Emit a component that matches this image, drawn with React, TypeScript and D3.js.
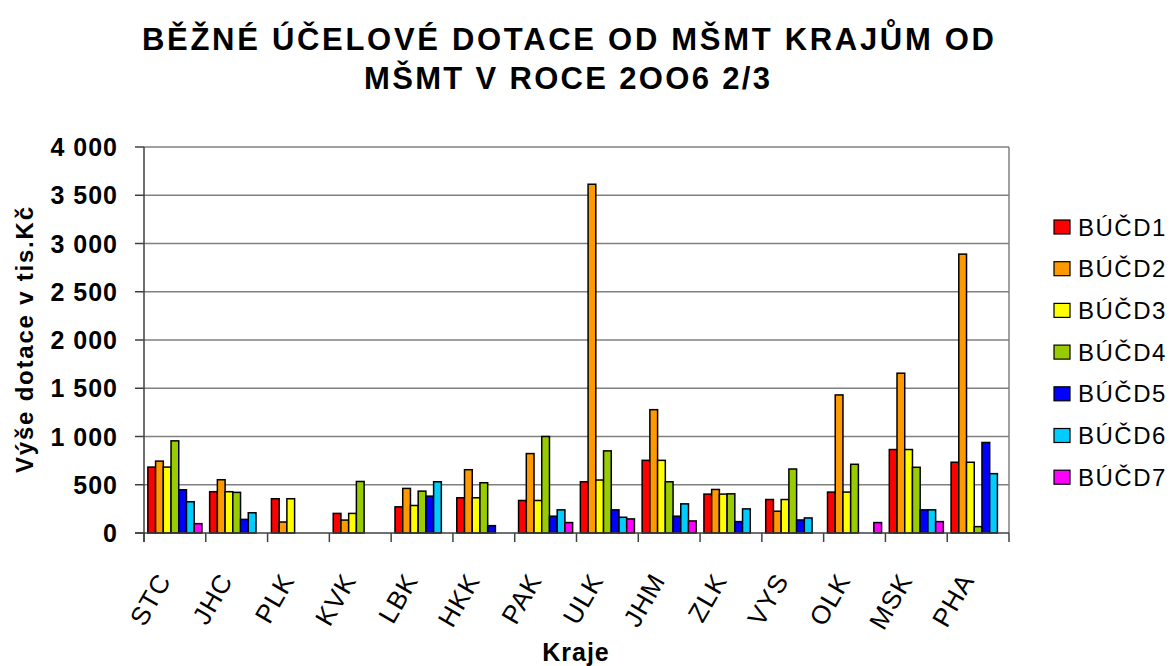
import React from "react";
import * as d3 from "d3";

// kraje (categories)
const regions = ["STC", "JHC", "PLK", "KVK", "LBK", "HKK", "PAK", "ULK", "JHM", "ZLK", "VYS", "OLK", "MSK", "PHA"];
const seriesNames = ["BÚČD1", "BÚČD2", "BÚČD3", "BÚČD4", "BÚČD5", "BÚČD6", "BÚČD7"];
const seriesColors = ["#FF0000", "#FF9900", "#FFFF00", "#99CC00", "#0000FF", "#00CCFF", "#FF00FF"];

// values in tis. Kč, null = no bar
const budc1 = [683, 428, 355, 203, 271, 365, 337, 531, 753, 403, 347, 424, 865, 733];
const budc2 = [745, 552, 114, 134, 462, 656, 823, 3614, 1278, 451, 226, 1431, 1656, 2890];
const budc3 = [683, 428, 355, 203, 285, 365, 337, 549, 753, 403, 347, 424, 865, 733];
const budc4 = [955, 421, null, 534, 434, 521, 1000, 851, 531, 406, 663, 712, 681, 66];
const budc5 = [448, 141, null, null, 382, 76, 174, 240, 174, 118, 135, null, 240, 938];
const budc6 = [324, 210, null, null, 531, null, 240, 163, 302, 250, 156, null, 240, 615];
const budc7 = [97, null, null, null, null, null, 108, 146, 125, null, null, 108, 118, null];

const yTicks = [0, 500, 1000, 1500, 2000, 2500, 3000, 3500, 4000];

const W = 1172;
const H = 666;
const plot = { left: 144, right: 1009, top: 147, bottom: 533 };
const font = "'Liberation Sans', Arial, sans-serif";

const fmt = d3.formatLocale({ decimal: ",", thousands: " ", grouping: [3], currency: ["", ""] }).format(",d");

export default function App() {
  const series = [budc1, budc2, budc3, budc4, budc5, budc6, budc7];

  const x0 = d3.scaleBand<string>()
    .domain(regions)
    .range([plot.left, plot.right])
    .paddingInner(0.125)
    .paddingOuter(0.0625);
  const x1 = d3.scaleBand<number>()
    .domain(d3.range(seriesNames.length))
    .range([0, x0.bandwidth()]);
  const y = d3.scaleLinear().domain([0, 4000]).range([plot.bottom, plot.top]);

  const step = x0.step();
  const boundaries = d3.range(regions.length + 1).map((i) => plot.left + i * step);

  return (
    <div style={{ position: "absolute", left: 0, top: 0 }}>
      <svg width={W} height={H} style={{ display: "block", background: "#fff" }} fontFamily={font}>
        {/* title */}
        <text x={568} y={50} textAnchor="middle" fontSize={31} fontWeight="bold"
          textLength={852} lengthAdjust="spacing">
          BĚŽNÉ ÚČELOVÉ DOTACE OD MŠMT KRAJŮM OD
        </text>
        <text x={567} y={89} textAnchor="middle" fontSize={31} fontWeight="bold"
          textLength={406} lengthAdjust="spacing">
          MŠMT V ROCE 2OO6 2/3
        </text>

        {/* gridlines */}
        {yTicks.filter((t) => t > 0).map((t) => (
          <line key={"g" + t} x1={plot.left} x2={plot.right} y1={y(t)} y2={y(t)}
            stroke="#808080" strokeWidth={1.5} />
        ))}
        <line x1={plot.right} x2={plot.right} y1={plot.top} y2={plot.bottom} stroke="#808080" strokeWidth={1.5} />

        {/* bars */}
        {regions.map((r, i) => (
          <g key={r} transform={`translate(${x0(r)},0)`}>
            {series.map((s, k) => {
              const v = s[i];
              if (v == null) return null;
              return (
                <rect key={k} x={x1(k)} y={y(v)} width={x1.bandwidth()} height={y(0) - y(v)}
                  fill={seriesColors[k]} stroke="#000" strokeWidth={1.5} />
              );
            })}
          </g>
        ))}

        {/* axes */}
        <line x1={plot.left} x2={plot.left} y1={plot.top} y2={plot.bottom + 9} stroke="#404040" strokeWidth={1.5} />
        <line x1={plot.left - 9} x2={plot.right} y1={plot.bottom} y2={plot.bottom} stroke="#404040" strokeWidth={1.5} />
        {yTicks.map((t) => (
          <g key={"t" + t}>
            <line x1={plot.left - 9} x2={plot.left} y1={y(t)} y2={y(t)} stroke="#404040" strokeWidth={1.5} />
            <text x={118} y={y(t)} dy="0.36em" textAnchor="end" fontSize={25} fontWeight="bold"
              letterSpacing={1}>
              {fmt(t)}
            </text>
          </g>
        ))}
        {boundaries.map((bx, i) => (
          <line key={"b" + i} x1={bx} x2={bx} y1={plot.bottom} y2={plot.bottom + 9} stroke="#404040" strokeWidth={1.5} />
        ))}
        {regions.map((r) => {
          const cx = (x0(r) as number) + x0.bandwidth() / 2;
          return (
            <text key={"l" + r} transform={`translate(${cx - 3},580) rotate(-60)`} textAnchor="end"
              fontSize={26} letterSpacing={1}>
              {r}
            </text>
          );
        })}

        {/* axis titles */}
        <text x={576} y={661} textAnchor="middle" fontSize={25} fontWeight="bold" letterSpacing={1}>Kraje</text>
        <text transform={`translate(33,${(plot.top + plot.bottom) / 2}) rotate(-90)`} textAnchor="middle"
          fontSize={24} fontWeight="bold" textLength={266} lengthAdjust="spacing">
          Výše dotace v tis.Kč
        </text>

        {/* legend */}
        {seriesNames.map((n, k) => {
          const cy = 227 + k * 41.7;
          return (
            <g key={n}>
              <rect x={1054} y={cy - 7} width={16} height={14} fill={seriesColors[k]} stroke="#000" strokeWidth={1.2} />
              <text x={1078} y={cy} dy="0.36em" fontSize={24} letterSpacing={1.5}>{n}</text>
            </g>
          );
        })}
      </svg>
    </div>
  );
}
